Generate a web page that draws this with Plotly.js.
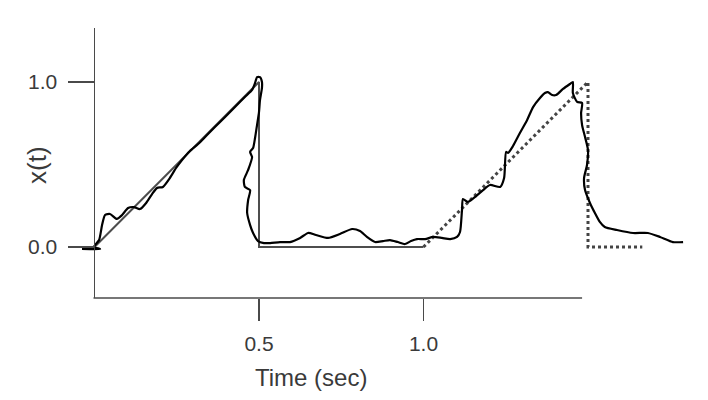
<!DOCTYPE html>
<html>
<head>
<meta charset="utf-8">
<script src="https://cdn.plot.ly/plotly-3.0.1.min.js"></script>
<style>html,body{margin:0;padding:0;background:#fff;}#chart{width:708px;height:400px;}</style>
</head>
<body>
<div id="chart"></div>
<script>
// Ideal sawtooth (first cycle, solid thin line)
const idealX = [0, 0.5, 0.5, 1.0];
const idealY = [0, 1.0, 0.0, 0.0];

// Ideal sawtooth (second cycle, dotted line)
const dotX = [1.0, 1.5, 1.5, 1.665];
const dotY = [0, 1.0, 0.0, 0.0];

// Measured response x(t)
const measX = [-0.038, 0.017, -0.002, 0.014, 0.023, 0.032, 0.047, 0.068, 0.084, 0.102, 0.120, 0.138, 0.157, 0.175, 0.190, 0.208,
  0.229, 0.248, 0.266, 0.290, 0.315, 0.342, 0.366, 0.397, 0.427, 0.457, 0.479, 0.488, 0.494, 0.503, 0.509, 0.509,
  0.503, 0.500, 0.494, 0.488, 0.482, 0.473, 0.479, 0.467, 0.454, 0.457, 0.473, 0.467, 0.464, 0.473, 0.482, 0.497,
  0.515, 0.534, 0.564, 0.594, 0.625, 0.649, 0.673, 0.710, 0.746, 0.783, 0.807, 0.828, 0.853, 0.877, 0.898, 0.922,
  0.944, 0.962, 0.980, 1.005, 1.029, 1.056, 1.081, 1.102, 1.111, 1.117, 1.120, 1.135, 1.160, 1.181, 1.202, 1.233,
  1.245, 1.251, 1.257, 1.272, 1.293, 1.315, 1.333, 1.354, 1.369, 1.378, 1.391, 1.403, 1.424, 1.445, 1.454, 1.454,
  1.467, 1.482, 1.479, 1.482, 1.491, 1.500, 1.497, 1.488, 1.491, 1.506, 1.521, 1.536, 1.551, 1.588, 1.637, 1.682,
  1.719, 1.758, 1.789];
const measY = [-0.012, -0.012, 0.000, 0.042, 0.133, 0.194, 0.200, 0.170, 0.194, 0.236, 0.242, 0.230, 0.267, 0.321, 0.358, 0.364,
  0.418, 0.479, 0.527, 0.582, 0.624, 0.679, 0.727, 0.788, 0.848, 0.909, 0.952, 0.994, 1.030, 1.030, 1.000, 0.964,
  0.891, 0.818, 0.739, 0.661, 0.600, 0.576, 0.545, 0.467, 0.406, 0.364, 0.345, 0.285, 0.206, 0.133, 0.085, 0.036,
  0.024, 0.024, 0.030, 0.030, 0.055, 0.085, 0.073, 0.055, 0.079, 0.109, 0.097, 0.061, 0.030, 0.036, 0.042, 0.030,
  0.018, 0.036, 0.048, 0.048, 0.061, 0.055, 0.048, 0.061, 0.091, 0.224, 0.291, 0.273, 0.309, 0.345, 0.376, 0.364,
  0.418, 0.576, 0.570, 0.612, 0.691, 0.770, 0.848, 0.903, 0.933, 0.939, 0.921, 0.921, 0.958, 0.988, 1.000, 0.933,
  0.879, 0.873, 0.812, 0.739, 0.667, 0.588, 0.497, 0.418, 0.345, 0.267, 0.206, 0.152, 0.121, 0.103, 0.085, 0.085,
  0.061, 0.030, 0.030];

const xTickVals = [0.5, 1.0];
const xTickText = ['0.5', '1.0'];
const yTickVals = [0.0, 1.0];
const yTickText = ['0.0', '1.0'];

// layout geometry
const W = 708, H = 400;
const mL = 75, mR = 15, mT = 28, mB = 102;
const PXX = 329, X0 = 94.5;   // px per x-unit, px of x=0
const PXY = 165, Y0 = 247;    // px per y-unit, px of y=0
const xRange = [(mL - X0) / PXX, (W - mR - X0) / PXX];
const yRange = [(Y0 - (H - mB)) / PXY, (Y0 - mT) / PXY];
const yAxisPos = (X0 - 1 - mL) / (W - mL - mR);
const xAxisEnd = 1.482;

const axisColor = '#4a4a4a';
const textColor = '#3a3a3a';
const font = 'Liberation Sans, Arial, Helvetica, sans-serif';

const traces = [
  {x: idealX, y: idealY, mode: 'lines', line: {color: '#4d4d4d', width: 2}, hoverinfo: 'skip'},
  {x: dotX, y: dotY, mode: 'lines', line: {color: '#444444', width: 3, dash: 'dot'}, hoverinfo: 'skip'},
  {x: measX, y: measY, mode: 'lines', line: {color: '#000000', width: 2.2, shape: 'spline', smoothing: 0.6}, hoverinfo: 'skip'}
];

const layout = {
  width: W, height: H,
  margin: {l: mL, r: mR, t: mT, b: mB, pad: 0},
  paper_bgcolor: '#ffffff', plot_bgcolor: '#ffffff',
  showlegend: false,
  font: {family: font, color: textColor, size: 21},
  xaxis: {
    range: xRange, showgrid: false, zeroline: false, showline: false,
    tickvals: xTickVals, ticktext: xTickText,
    ticks: 'outside', ticklen: 22, tickwidth: 1.5, tickcolor: axisColor,
    ticklabelstandoff: 5,
    tickfont: {family: font, size: 21, color: textColor},
    anchor: 'y', fixedrange: true
  },
  yaxis: {
    range: yRange, showgrid: false, zeroline: false,
    showline: true, linecolor: axisColor, linewidth: 1.5,
    anchor: 'free', position: yAxisPos,
    tickvals: yTickVals, ticktext: yTickText,
    ticks: 'outside', ticklen: 26, tickwidth: 1.5, tickcolor: axisColor,
    ticklabelstandoff: 6,
    tickfont: {family: font, size: 21, color: textColor},
    fixedrange: true
  },
  shapes: [
    {type: 'line', xref: 'x', yref: 'paper', x0: 0 - 1 / PXX, x1: xAxisEnd, y0: 0, y1: 0,
     line: {color: axisColor, width: 1.5}}
  ],
  annotations: [
    {text: 'Time (sec)', xref: 'paper', yref: 'paper',
     x: (311 - mL) / (W - mL - mR), y: -(377 - (H - mB)) / (H - mT - mB),
     xanchor: 'center', yanchor: 'middle', showarrow: false,
     font: {family: font, size: 24, color: textColor}},
    {text: 'x(t)', xref: 'paper', yref: 'paper', textangle: -90,
     x: (37 - mL) / (W - mL - mR), y: 1 - (165 - mT) / (H - mT - mB),
     xanchor: 'center', yanchor: 'middle', showarrow: false,
     font: {family: font, size: 26, color: textColor}}
  ]
};

Plotly.newPlot('chart', traces, layout, {staticPlot: true, displayModeBar: false});
</script>
</body>
</html>
